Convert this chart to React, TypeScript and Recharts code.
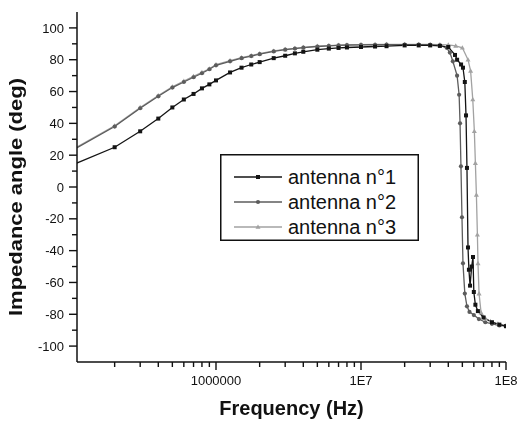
import { LineChart, Line, XAxis, YAxis, Legend, Label } from 'recharts';

// antenna n°1 (black, squares)
const freqA1 = [1e5, 2e5, 3e5, 4e5, 5e5, 6e5, 7e5, 8e5, 9e5, 1e6, 1.25e6, 1.5e6, 1.75e6, 2e6, 2.5e6, 3e6, 3.5e6, 4e6, 5e6, 6e6, 7e6, 8e6, 1e7, 1.25e7, 1.5e7, 2e7, 2.5e7, 3e7, 3.5e7, 4e7, 4.45e7, 4.6e7, 4.9e7, 5.05e7, 5.2e7, 5.3e7, 5.38e7, 5.47e7, 5.55e7, 5.65e7, 5.8e7, 5.92e7, 6e7, 6.15e7, 6.4e7, 7e7, 8e7, 9e7, 1e8];
const phaseA1 = [13.5, 25, 35, 43, 50, 55, 58.5, 62, 64.5, 67, 72, 75, 77, 78.5, 81, 82.5, 84, 85, 86.3, 87, 87.4, 87.7, 88, 88.3, 88.5, 89, 89, 89, 88.7, 88, 83, 80, 77, 75, 66, 45, 12, -38, -52, -62, -50, -44, -66, -74, -78, -82, -85, -86.5, -87.5];

// antenna n°2 (dark grey, circles)
const freqA2 = [1e5, 2e5, 3e5, 4e5, 5e5, 6e5, 7e5, 8e5, 9e5, 1e6, 1.25e6, 1.5e6, 1.75e6, 2e6, 2.5e6, 3e6, 3.5e6, 4e6, 5e6, 6e6, 7e6, 8e6, 1e7, 1.25e7, 1.5e7, 2e7, 2.5e7, 3e7, 3.5e7, 3.9e7, 4.1e7, 4.3e7, 4.6e7, 4.75e7, 4.82e7, 4.89e7, 4.97e7, 5.05e7, 5.2e7, 5.38e7, 5.6e7, 6e7, 6.5e7, 7.2e7, 8e7, 9e7, 1e8];
const phaseA2 = [22.5, 38, 49.5, 57, 62.5, 66, 69, 71.5, 74, 76.5, 79, 81, 82.3, 83.5, 85.2, 86.3, 87, 87.6, 88.3, 88.7, 89, 89.2, 89.3, 89.4, 89.5, 89.5, 89.5, 89.3, 89, 87.5, 84.5, 79, 70, 58, 40, 13, -19, -48, -67, -75, -78.5, -80.5, -83, -85, -86, -87, -87.5];

// antenna n°3 (light grey, triangles)
const freqA3 = [1e5, 2e5, 3e5, 4e5, 5e5, 6e5, 7e5, 8e5, 9e5, 1e6, 1.25e6, 1.5e6, 1.75e6, 2e6, 2.5e6, 3e6, 3.5e6, 4e6, 5e6, 6e6, 7e6, 8e6, 1e7, 1.25e7, 1.5e7, 2e7, 2.5e7, 3e7, 3.5e7, 4e7, 4.5e7, 5e7, 5.47e7, 5.7e7, 5.9e7, 6.05e7, 6.15e7, 6.25e7, 6.35e7, 6.41e7, 6.52e7, 6.73e7, 7.2e7, 7.8e7, 8.8e7, 1e8];
const phaseA3 = [23, 38.5, 50, 57.5, 63, 66.5, 69.5, 72, 74.3, 77, 79.5, 81.3, 82.6, 83.8, 85.5, 86.5, 87.2, 87.8, 88.5, 88.9, 89.2, 89.4, 89.5, 89.6, 89.7, 89.7, 89.7, 89.6, 89.5, 89.3, 88.7, 87.5, 80, 73, 55, 35, 15, -5, -30, -48, -67, -79, -82.5, -84.5, -86, -87];

const seriesNames = ['antenna n°1', 'antenna n°2', 'antenna n°3'];
const seriesColors = ['#141414', '#5c5c5c', '#a2a2a2'];
const seriesShapes = ['square', 'circle', 'triangle'];

const xTicks = [2e5, 3e5, 4e5, 5e5, 6e5, 7e5, 8e5, 9e5, 1e6, 2e6, 3e6, 4e6, 5e6, 6e6, 7e6, 8e6, 9e6, 1e7, 2e7, 3e7, 4e7, 5e7, 6e7, 7e7, 8e7, 9e7, 1e8];
const xMajorTicks = [1e6, 1e7, 1e8];
const xMajorLabels = ['1000000', '1E7', '1E8'];
const yTicks = [-100, -90, -80, -70, -60, -50, -40, -30, -20, -10, 0, 10, 20, 30, 40, 50, 60, 70, 80, 90, 100];

const FONT = '"Liberation Sans", Arial, Helvetica, sans-serif';
const AXIS = '#111';

const toRows = (f: number[], p: number[]) => f.map((freq, i) => ({ freq, phase: p[i] }));
const data1 = toRows(freqA1, phaseA1);
const data2 = toRows(freqA2, phaseA2);
const data3 = toRows(freqA3, phaseA3);

function Marker({ shape, cx, cy, color }: { shape: string; cx: number; cy: number; color: string }) {
  if (shape === 'square') return <rect x={cx - 2} y={cy - 2} width={4} height={4} fill={color} />;
  if (shape === 'circle') return <circle cx={cx} cy={cy} r={2.1} fill={color} />;
  return <polygon points={`${cx},${cy - 2.6} ${cx + 2.5},${cy + 1.8} ${cx - 2.5},${cy + 1.8}`} fill={color} />;
}

const makeDot = (i: number) => (p: any) => {
  if (p.cx == null || p.cy == null) return <g key={p.index} />;
  return <Marker key={p.index} shape={seriesShapes[i]} cx={p.cx} cy={p.cy} color={seriesColors[i]} />;
};

const isMajorY = (v: number) => v % 20 === 0;

function BottomTick(props: any) {
  const { x, y, payload } = props;
  const k = xMajorTicks.indexOf(payload.value);
  const len = k >= 0 ? 8 : 5;
  return (
    <g>
      <line x1={x} x2={x} y1={y} y2={y + len} stroke={AXIS} strokeWidth={1.4} />
      {k >= 0 && (
        <text x={x} y={y + 22.5} textAnchor="middle" fontSize={13} fontFamily={FONT} fill="#111">
          {xMajorLabels[k]}
        </text>
      )}
    </g>
  );
}

function TopTick(props: any) {
  const { x, y, payload } = props;
  const len = xMajorTicks.indexOf(payload.value) >= 0 ? 6 : 3.5;
  return <line x1={x} x2={x} y1={y} y2={y + len} stroke={AXIS} strokeWidth={1.4} />;
}

function LeftTick(props: any) {
  const { x, y, payload } = props;
  const major = isMajorY(payload.value);
  return (
    <g>
      <line x1={x - (major ? 8 : 5)} x2={x} y1={y} y2={y} stroke={AXIS} strokeWidth={1.4} />
      {major && (
        <text x={x - 13} y={y + 4.6} textAnchor="end" fontSize={13} fontFamily={FONT} fill="#111">
          {payload.value}
        </text>
      )}
    </g>
  );
}

function RightTick(props: any) {
  const { x, y, payload } = props;
  const len = isMajorY(payload.value) ? 5 : 3;
  return <line x1={x - len} x2={x} y1={y} y2={y} stroke={AXIS} strokeWidth={1.4} />;
}

function XTitle(props: any) {
  const vb = props.viewBox;
  return (
    <text x={vb.x + vb.width / 2} y={vb.y + 53} textAnchor="middle" fontSize={20} fontWeight="bold" fontFamily={FONT} fill="#111">
      Frequency (Hz)
    </text>
  );
}

function YTitle(props: any) {
  const vb = props.viewBox;
  const cx = vb.x + 13.5;
  const cy = vb.y + vb.height / 2 + 10;
  return (
    <text x={cx} y={cy} transform={`rotate(-90 ${cx} ${cy})`} textAnchor="middle" fontSize={18.5} fontWeight="bold" fontFamily={FONT} fill="#111" textLength={238} lengthAdjust="spacingAndGlyphs">
      Impedance angle (deg)
    </text>
  );
}

function LegendBox(props: any) {
  const payload = (props.payload || []).slice().sort(
    (a: any, b: any) => seriesNames.indexOf(a.value) - seriesNames.indexOf(b.value)
  );
  return (
    <svg width={199} height={87} style={{ display: 'block' }}>
      <rect x={0.75} y={0.75} width={197.5} height={85.5} fill="#fff" stroke="#111" strokeWidth={1.5} />
      {payload.map((item: any, i: number) => {
        const k = seriesNames.indexOf(item.value);
        const cy = 23 + i * 25;
        return (
          <g key={item.value}>
            <line x1={14} x2={62} y1={cy} y2={cy} stroke={seriesColors[k]} strokeWidth={1.6} />
            <Marker shape={seriesShapes[k]} cx={38} cy={cy} color={seriesColors[k]} />
            <text x={68} y={cy + 7} fontSize={20} fontFamily={FONT} fill="#111">
              {item.value}
            </text>
          </g>
        );
      })}
    </svg>
  );
}

export default function App() {
  return (
    <div style={{ position: 'fixed', left: 0, top: 8 }}>
      <LineChart width={517} height={413} margin={{ top: 4, right: 11, bottom: 0, left: 8 }}>
        <XAxis
          xAxisId="bottom"
          dataKey="freq"
          type="number"
          scale="log"
          domain={[1.1e5, 1e8]}
          allowDataOverflow
          ticks={xTicks}
          interval={0}
          tickSize={0}
          tickMargin={0}
          tickLine={false}
          tick={<BottomTick />}
          height={59}
          axisLine={{ stroke: AXIS, strokeWidth: 1.5 }}
        >
          <Label content={XTitle} />
        </XAxis>
        <XAxis
          xAxisId="top"
          orientation="top"
          dataKey="freq"
          type="number"
          scale="log"
          domain={[1.1e5, 1e8]}
          allowDataOverflow
          ticks={xTicks}
          interval={0}
          tickSize={0}
          tickMargin={0}
          tickLine={false}
          tick={<TopTick />}
          height={0}
          axisLine={{ stroke: AXIS, strokeWidth: 1.5 }}
        />
        <YAxis
          yAxisId="left"
          type="number"
          domain={[-110, 110]}
          allowDataOverflow
          ticks={yTicks}
          interval={0}
          tickSize={0}
          tickMargin={0}
          tickLine={false}
          tick={<LeftTick />}
          width={69}
          axisLine={{ stroke: AXIS, strokeWidth: 1.5 }}
        >
          <Label content={YTitle} />
        </YAxis>
        <YAxis
          yAxisId="right"
          orientation="right"
          type="number"
          domain={[-110, 110]}
          allowDataOverflow
          ticks={yTicks}
          interval={0}
          tickSize={0}
          tickMargin={0}
          tickLine={false}
          tick={<RightTick />}
          width={0}
          axisLine={{ stroke: AXIS, strokeWidth: 1.5 }}
        />
        <Legend
          layout="vertical"
          align="center"
          verticalAlign="middle"
          content={LegendBox}
          wrapperStyle={{ left: 220, top: 146, width: 199, height: 87 }}
        />
        <Line data={data3} name={seriesNames[2]} dataKey="phase" xAxisId="bottom" yAxisId="left" stroke={seriesColors[2]} strokeWidth={1.3} dot={makeDot(2)} isAnimationActive={false} />
        <Line data={data2} name={seriesNames[1]} dataKey="phase" xAxisId="bottom" yAxisId="left" stroke={seriesColors[1]} strokeWidth={1.3} dot={makeDot(1)} isAnimationActive={false} />
        <Line data={data1} name={seriesNames[0]} dataKey="phase" xAxisId="bottom" yAxisId="left" stroke={seriesColors[0]} strokeWidth={1.3} dot={makeDot(0)} isAnimationActive={false} />
      </LineChart>
    </div>
  );
}
